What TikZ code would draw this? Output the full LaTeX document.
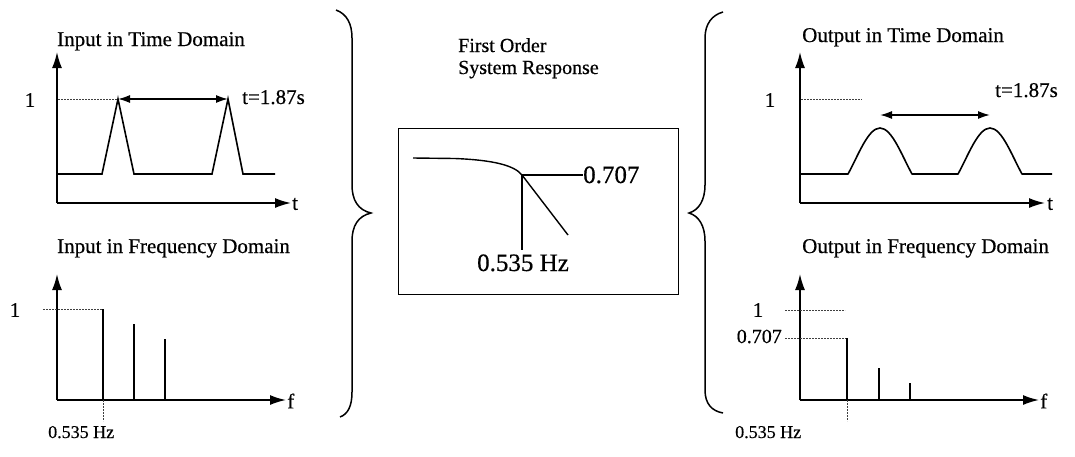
\documentclass[tikz,border=0pt]{standalone}
\usepackage{fontspec}
\setmainfont{Liberation Serif}[FakeBold=0.5]
\usetikzlibrary{arrows.meta}
\begin{document}
\begin{tikzpicture}[x=1pt,y=-1pt,
  ax/.style={line width=1.7pt,-{Latex[length=16pt,width=10pt]}},
  sig/.style={line width=1.6pt,line join=miter},
  dots/.style={line width=0.9pt,dash pattern=on 1.6pt off 1.4pt,black!75},
  dbl/.style={line width=1.6pt,{Latex[length=12pt,width=8pt]}-{Latex[length=12pt,width=8pt]}},
  brace/.style={line width=1.5pt},
  txt/.style={inner sep=0pt,font=\fontsize{21}{25}\selectfont},
  small/.style={inner sep=0pt,font=\fontsize{18}{22}\selectfont},
  big/.style={inner sep=0pt,font=\fontsize{25}{30}\selectfont}]
\useasboundingbox (0,0) rectangle (1075,456);

% ---------- Input in time domain ----------
\node[txt,anchor=base west] (t1) at (57,46) {Input in Time Domain};
\coordinate (o1) at (57,203);
\coordinate (y1) at (57,52);
\coordinate (x1) at (291,203);
\draw[ax] (o1) -- (y1);
\draw[ax] (o1) -- (x1);
\node[txt,anchor=west] (tl1) at (292,204) {t};
\node[txt] (one1) at (30,100) {1};
\coordinate (p1) at (118,99);
\coordinate (p2) at (228,99);
\draw[dots] (58,99) -- (p1);
\draw[sig] (57,174) -- (102,174) -- (p1) -- (134,174) -- (212,174) -- (p2) -- (243,174) -- (275,174);
\draw[dbl] (p1) -- (p2);
\node[txt,anchor=base west,font=\fontsize{21}{24}\selectfont] (per1) at (242,104) {t=1.87s};

% ---------- Input in frequency domain ----------
\node[txt,anchor=base west] (t2) at (57,253) {Input in Frequency Domain};
\coordinate (o2) at (57,400);
\coordinate (y2) at (57,274);
\coordinate (x2) at (286,400);
\draw[ax] (o2) -- (y2);
\draw[ax] (o2) -- (x2);
\node[txt,anchor=west] (fl2) at (287,401) {f};
\node[txt] (one2) at (15,310) {1};
\coordinate (s1) at (103,309);
\coordinate (s1b) at (103,400);
\coordinate (s2) at (134,324);
\coordinate (s2b) at (134,400);
\coordinate (s3) at (165,339);
\coordinate (s3b) at (165,400);
\draw[dots] (43,309) -- (s1);
\draw[sig] (s1) -- (s1b);
\draw[sig] (s2) -- (s2b);
\draw[sig] (s3) -- (s3b);
\draw[dots] (s1b) -- (103,421);
\node[small,anchor=base west] (hz2) at (48,438) {0.535 Hz};

% ---------- Braces ----------
\draw[brace] (336,10) .. controls (347,14) and (352,24) .. (352,38) -- (352,185)
  .. controls (352,200) and (358,210) .. (371,213)
  .. controls (358,216) and (352,226) .. (352,241) -- (352,392)
  .. controls (352,406) and (348,414) .. (340,417);
\draw[brace] (723,12) .. controls (712,15) and (705,24) .. (705,38) -- (705,185)
  .. controls (705,200) and (699,210) .. (689,213)
  .. controls (699,216) and (705,226) .. (705,241) -- (705,390)
  .. controls (705,404) and (712,411) .. (723,413);

% ---------- First order system ----------
\node[txt,anchor=base west,font=\fontsize{20}{24}\selectfont] (fo) at (458,52) {First Order};
\node[txt,anchor=base west,font=\fontsize{20}{24}\selectfont] (sr) at (458,74) {System Response};
\node[draw,line width=1.3pt,minimum width=280pt,minimum height=166pt,anchor=north west,inner sep=0pt] (box) at (398,128) {};
\coordinate (knee) at (522,175);
\draw[line width=1.4pt] (413,158) -- (455,158.5) .. controls (492,160) and (514,165) .. (knee) -- (568,235);
\draw[line width=1.4pt] (knee) -- (583,175);
\draw[line width=1.4pt] (knee) -- (522,250);
\node[big,anchor=base west] (v707) at (583,183) {0.707};
\node[big,anchor=base] (hzm) at (523,271) {0.535 Hz};

% ---------- Output in time domain ----------
\node[txt,anchor=base west] (t3) at (802,42) {Output in Time Domain};
\coordinate (o3) at (800,203);
\coordinate (y3) at (800,52);
\coordinate (x3) at (1045,203);
\draw[ax] (o3) -- (y3);
\draw[ax] (o3) -- (x3);
\node[txt,anchor=west] (tl3) at (1047,204) {t};
\node[txt] (one3) at (770,100) {1};
\draw[dots] (801,99) -- (862,99);
\draw[sig,line join=round] (800,174) -- (848,174)
  .. controls (858,156) and (868,128) .. (880,128)
  .. controls (892,128) and (902,156) .. (912,174) -- (958,174)
  .. controls (968,156) and (978,128) .. (990,128)
  .. controls (1002,128) and (1012,156) .. (1022,174) -- (1052,174);
\coordinate (q1) at (880,115);
\coordinate (q2) at (990,115);
\draw[dbl] (q1) -- (q2);
\node[txt,anchor=base west,font=\fontsize{21}{24}\selectfont] (per3) at (995,97) {t=1.87s};

% ---------- Output in frequency domain ----------
\node[txt,anchor=base west] (t4) at (802,253) {Output in Frequency Domain};
\coordinate (o4) at (800,400);
\coordinate (y4) at (800,274);
\coordinate (x4) at (1039,400);
\draw[ax] (o4) -- (y4);
\draw[ax] (o4) -- (x4);
\node[txt,anchor=west] (fl4) at (1040,401) {f};
\node[txt] (one4) at (758,310) {1};
\node[txt,anchor=base east,font=\fontsize{20}{24}\selectfont] (v707b) at (782,343) {0.707};
\coordinate (r1) at (847,338);
\coordinate (r1b) at (847,400);
\coordinate (r2) at (879,368);
\coordinate (r2b) at (879,400);
\coordinate (r3) at (910,383);
\coordinate (r3b) at (910,400);
\draw[dots] (785,310) -- (845,310);
\draw[dots] (785,338) -- (r1);
\draw[sig] (r1) -- (r1b);
\draw[sig] (r2) -- (r2b);
\draw[sig] (r3) -- (r3b);
\draw[dots] (r1b) -- (847,421);
\node[small,anchor=base west] (hz4) at (735,438) {0.535 Hz};
\end{tikzpicture}
\end{document}
